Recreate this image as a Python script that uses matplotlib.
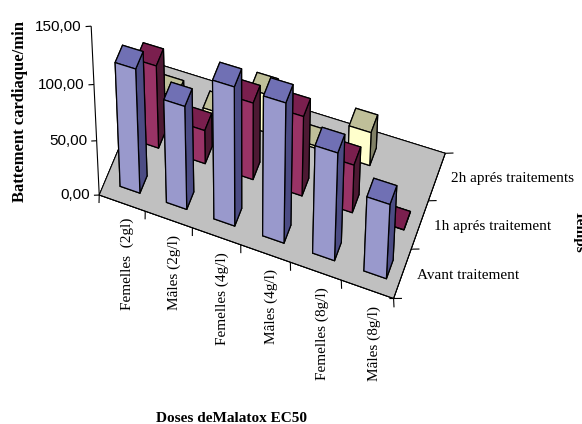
import numpy as np
import matplotlib
matplotlib.use('Agg')
import matplotlib.pyplot as plt
from mpl_toolkits.mplot3d import proj3d
from mpl_toolkits.mplot3d.art3d import Line3DCollection

categories = ['Femelles  (2gl)', 'Mâles (2g/l)', 'Femelles (4g/l)', 'Mâles (4g/l)', 'Femelles (8g/l)', 'Mâles (8g/l)']
series_names = ['Avant traitement', '1h aprés traitement', '2h aprés traitements']
avant = [111, 92, 122, 122, 94, 65]
une_heure = [74, 30, 68, 70, 42, 0]
deux_heures = [6, 4, 34, 2, 29, np.nan]
z_ticks = [0, 50, 100, 150]
z_labels = ['0,00', '50,00', '100,00', '150,00']

# front, top, side colours for each series
colours = [('#9999CC', '#7070B4', '#4C4C84'),
           ('#993366', '#7A1F4E', '#4D1933'),
           ('#FFFFCC', '#BFBF99', '#808066')]

# excel's 3d view is not a rigid camera, so fit the projection from the box corners
world = np.array([[0, 0, 0], [6, 0, 0], [6, 3, 0], [0, 3, 0], [0, 0, 150], [6, 0, 150], [0, 0, 100], [0, 0, 50]], float)
pixel = np.array([[99, 195], [394, 298], [444, 157], [156, 59.6], [90.7, 29], [403.4, 118], [93.5, 85], [96.5, 141]], float)


def fit_projection(world, pixel):
    rows = []
    for (x, y, z), (u, v) in zip(world, pixel):
        rows.append([x, y, z, 1, 0, 0, 0, 0, -u*x, -u*y, -u*z, -u])
        rows.append([0, 0, 0, 0, x, y, z, 1, -v*x, -v*y, -v*z, -v])
    p = np.linalg.svd(np.array(rows))[2][-1].reshape(3, 4)
    p = p / p[2, 3]
    depth = [-0.3, 1, -0.002, 0]
    return np.array([p[0], p[1], depth, p[2]])


fig = plt.figure(figsize=(5.82, 4.24), dpi=100)
ax = fig.add_subplot(projection='3d', computed_zorder=False)
ax.set_axis_off()
ax.set_position([0, 0, 1, 1])
ax.apply_aspect = lambda position=None: None
M = fit_projection(world, pixel)
ax.get_proj = lambda: M


def box(x, y, dx, dy, h, front, top, side, zorder, lw=0.9):
    # bottom, top, -y, +y, -x, +x
    c = ax.bar3d(x, y, 0, dx, dy, h, color=[side, top, front, side, side, side],
                 shade=False, edgecolor='black', linewidth=lw)
    c.set_zorder(zorder)


def label(x, y, z, s, **kw):
    u, v, _ = proj3d.proj_transform(x, y, z, M)
    ax.text2D(u, v, s, transform=ax.transData, **kw)


box(0, 0, 6, 3, 0, '#C0C0C0', '#C0C0C0', '#C0C0C0', 1, lw=0.7)

order = 2
for r in [2, 1, 0]:
    values = [avant, une_heure, deux_heures][r]
    front, top, side = colours[r]
    for i, v in enumerate(values):
        if np.isnan(v):
            continue
        box(i + 0.33, r + 0.31, 0.43, 0.38, v, front, top, side, order)
        order += 1

# axis lines and ticks
segments = [[(0, 0, 0), (0, 0, 150)]]
for t, lab in zip(z_ticks, z_labels):
    segments.append([(0, 0, t), (-0.1, -0.04, t)])
    label(-0.17, -0.065, t, lab, ha='right', va='center', fontsize=11, family='Liberation Sans')
for i in range(7):
    segments.append([(i, 0, 0), (i + 0.06, -0.155, 0)])
for r in range(4):
    segments.append([(6, r, 0), (6.14, r + 0.054, 0)])
segments.append([(6, 0, 0), (5.93, -0.027, 0)])
lines = Line3DCollection(segments, colors='black', linewidths=0.8)
ax.add_collection3d(lines)
lines.set_zorder(1.5)

for i, lab in enumerate(categories):
    label(i + 0.72, -0.25, 0, lab, rotation=90, ha='center', va='top', fontsize=11,
          family='Liberation Serif')
for r, lab in enumerate(series_names):
    label(6.25, r + 0.55, 0, lab, ha='left', va='center', fontsize=11, family='Liberation Serif')

fig.text(20/582, 1 - 112/424, 'Battement cardiaque/min', rotation=90, ha='center', va='center',
         fontsize=12, fontweight='bold', family='Liberation Serif')
fig.text(231/582, 1 - 418/424, 'Doses deMalatox EC50', ha='center', va='center',
         fontsize=11, fontweight='bold', family='Liberation Serif')
fig.text(573/582, 1 - 210/424, 'Temps', rotation=270, ha='left', va='top',
         fontsize=11, fontweight='bold', family='Liberation Serif')

ax.viewLim.intervalx = (0, 582)
ax.viewLim.intervaly = (424, 0)
fig.savefig('out.png', dpi=100)
